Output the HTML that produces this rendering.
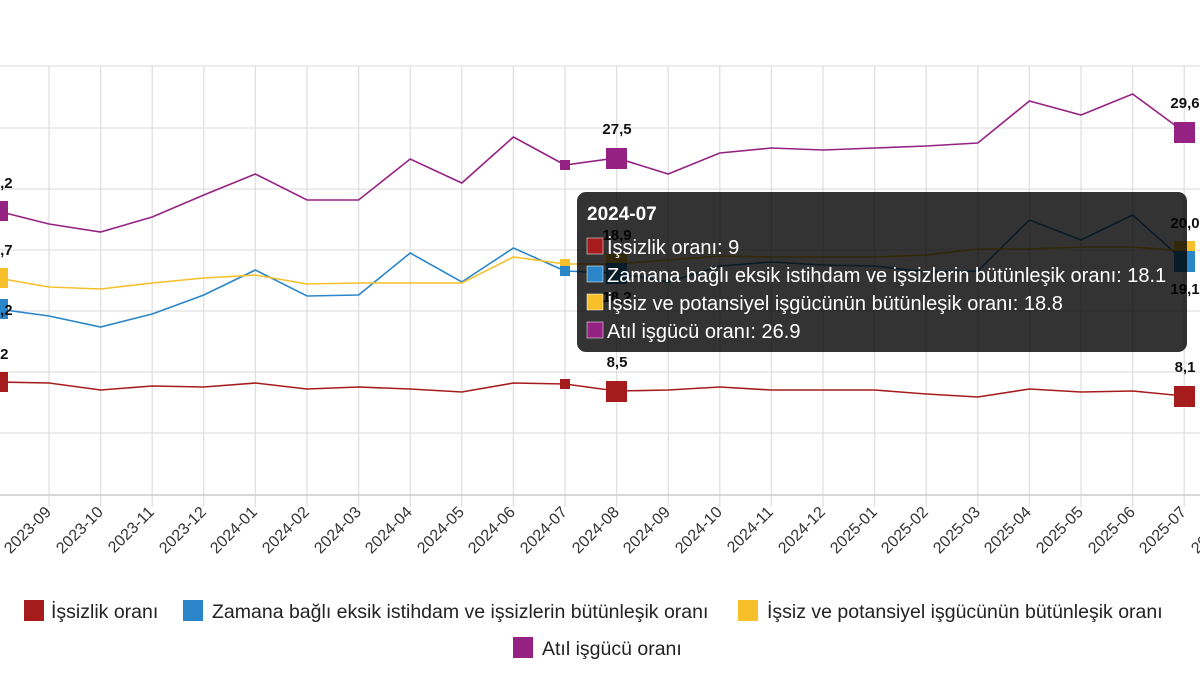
<!DOCTYPE html>
<html><head><meta charset="utf-8"><style>
html,body{margin:0;padding:0;background:#fff;width:1200px;height:675px;overflow:hidden}
svg{display:block;font-family:"Liberation Sans",Arial,sans-serif}
</style></head><body>
<svg width="1200" height="675" viewBox="0 0 1200 675">
<g stroke="#e0e0e0" stroke-width="1.3">
<line x1="0" y1="66" x2="1200" y2="66"/><line x1="0" y1="128" x2="1200" y2="128"/>
<line x1="0" y1="189" x2="1200" y2="189"/><line x1="0" y1="250" x2="1200" y2="250"/>
<line x1="0" y1="311" x2="1200" y2="311"/><line x1="0" y1="372" x2="1200" y2="372"/>
<line x1="0" y1="433" x2="1200" y2="433"/>
<line x1="49" y1="66" x2="49" y2="507"/><line x1="100.6" y1="66" x2="100.6" y2="507"/>
<line x1="152.2" y1="66" x2="152.2" y2="507"/><line x1="203.8" y1="66" x2="203.8" y2="507"/>
<line x1="255.4" y1="66" x2="255.4" y2="507"/><line x1="307" y1="66" x2="307" y2="507"/>
<line x1="358.6" y1="66" x2="358.6" y2="507"/><line x1="410.2" y1="66" x2="410.2" y2="507"/>
<line x1="461.8" y1="66" x2="461.8" y2="507"/><line x1="513.4" y1="66" x2="513.4" y2="507"/>
<line x1="565" y1="66" x2="565" y2="507"/><line x1="616.6" y1="66" x2="616.6" y2="507"/>
<line x1="668.2" y1="66" x2="668.2" y2="507"/><line x1="719.8" y1="66" x2="719.8" y2="507"/>
<line x1="771.4" y1="66" x2="771.4" y2="507"/><line x1="823" y1="66" x2="823" y2="507"/>
<line x1="874.6" y1="66" x2="874.6" y2="507"/><line x1="926.2" y1="66" x2="926.2" y2="507"/>
<line x1="977.8" y1="66" x2="977.8" y2="507"/><line x1="1029.4" y1="66" x2="1029.4" y2="507"/>
<line x1="1081" y1="66" x2="1081" y2="507"/><line x1="1132.6" y1="66" x2="1132.6" y2="507"/>
<line x1="1184.2" y1="66" x2="1184.2" y2="507"/>
</g>
<line x1="0" y1="495" x2="1200" y2="495" stroke="#ccc" stroke-width="1.5"/>
<g fill="none" stroke-width="1.6">
<polyline stroke="#a61c1c" points="-2.6,382 49,383 100.6,390 152.2,386 203.8,387 255.4,383 307,389 358.6,387 410.2,389 461.8,392 513.4,383 565,384 616.6,391 668.2,390 719.8,387 771.4,390 823,390 874.6,390 926.2,394 977.8,397 1029.4,389 1081,392 1132.6,391 1184.2,396"/>
<polyline stroke="#2a86c9" points="-2.6,309 49,316 100.6,327 152.2,314 203.8,295 255.4,270 307,296 358.6,295 410.2,253 461.8,282 513.4,248 565,271 616.6,273 668.2,282 719.8,266 771.4,262 823,265 874.6,266 926.2,272 977.8,271 1029.4,220 1081,240 1132.6,215 1184.2,261"/>
<polyline stroke="#f7c02a" points="-2.6,278 49,287 100.6,289 152.2,283 203.8,278 255.4,275 307,284 358.6,283 410.2,283 461.8,283 513.4,257 565,264 616.6,264 668.2,260 719.8,256 771.4,257 823,257 874.6,257 926.2,255 977.8,249 1029.4,249 1081,247 1132.6,247 1184.2,251"/>
<polyline stroke="#952283" points="-2.6,211 49,224 100.6,232 152.2,217 203.8,195 255.4,174 307,200 358.6,200 410.2,159 461.8,183 513.4,137 565,165 616.6,158 668.2,174 719.8,153 771.4,148 823,150 874.6,148 926.2,146 977.8,143 1029.4,101 1081,115 1132.6,94 1184.2,132"/>
</g>
<g>
<rect x="-12" y="201" width="20" height="20" fill="#952283"/>
<rect x="-12" y="268" width="20" height="20" fill="#f7c02a"/>
<rect x="-12" y="299" width="20" height="20" fill="#2a86c9"/>
<rect x="-12" y="372" width="20" height="20" fill="#a61c1c"/>
<rect x="560" y="160" width="10" height="10" fill="#952283"/>
<rect x="560" y="259" width="10" height="10" fill="#f7c02a"/>
<rect x="560" y="266" width="10" height="10" fill="#2a86c9"/>
<rect x="560" y="379" width="10" height="10" fill="#a61c1c"/>
<rect x="606" y="148" width="21" height="21" fill="#952283"/>
<rect x="606" y="254" width="21" height="21" fill="#f7c02a"/>
<rect x="606" y="263" width="21" height="21" fill="#2a86c9"/>
<rect x="606" y="381" width="21" height="21" fill="#a61c1c"/>
<rect x="1174" y="122" width="21" height="21" fill="#952283"/>
<rect x="1174" y="241" width="21" height="21" fill="#f7c02a"/>
<rect x="1174" y="251" width="21" height="21" fill="#2a86c9"/>
<rect x="1174" y="386" width="21" height="21" fill="#a61c1c"/>
</g>
<g font-size="15" font-weight="bold" fill="#111" text-anchor="middle">
<text x="-2" y="188">27,2</text><text x="-2" y="255">19,7</text><text x="-2" y="315">18,2</text><text x="-2" y="359">9,2</text>
<text x="617" y="134">27,5</text><text x="617" y="240">18,9</text><text x="617" y="302">18,2</text><text x="617" y="367">8,5</text>
<text x="1185" y="108">29,6</text><text x="1185" y="228">20,0</text><text x="1185" y="294">19,1</text><text x="1185" y="372">8,1</text>
</g>
<g font-size="16" fill="#333" text-anchor="end">
<text transform="translate(1,513) rotate(-45)">2023-08</text>
<text transform="translate(52,513) rotate(-45)">2023-09</text>
<text transform="translate(104,513) rotate(-45)">2023-10</text>
<text transform="translate(155,513) rotate(-45)">2023-11</text>
<text transform="translate(207,513) rotate(-45)">2023-12</text>
<text transform="translate(258,513) rotate(-45)">2024-01</text>
<text transform="translate(310,513) rotate(-45)">2024-02</text>
<text transform="translate(362,513) rotate(-45)">2024-03</text>
<text transform="translate(413,513) rotate(-45)">2024-04</text>
<text transform="translate(465,513) rotate(-45)">2024-05</text>
<text transform="translate(516,513) rotate(-45)">2024-06</text>
<text transform="translate(568,513) rotate(-45)">2024-07</text>
<text transform="translate(620,513) rotate(-45)">2024-08</text>
<text transform="translate(671,513) rotate(-45)">2024-09</text>
<text transform="translate(723,513) rotate(-45)">2024-10</text>
<text transform="translate(774,513) rotate(-45)">2024-11</text>
<text transform="translate(826,513) rotate(-45)">2024-12</text>
<text transform="translate(878,513) rotate(-45)">2025-01</text>
<text transform="translate(929,513) rotate(-45)">2025-02</text>
<text transform="translate(981,513) rotate(-45)">2025-03</text>
<text transform="translate(1032,513) rotate(-45)">2025-04</text>
<text transform="translate(1084,513) rotate(-45)">2025-05</text>
<text transform="translate(1136,513) rotate(-45)">2025-06</text>
<text transform="translate(1187,513) rotate(-45)">2025-07</text>
<text transform="translate(1239,513) rotate(-45)">2025-08</text>
</g>
<rect x="577" y="192" width="610" height="160" rx="9" fill="rgba(0,0,0,0.8)"/>
<g font-size="20" fill="#fff">
<text x="587" y="220" font-weight="bold" font-size="19">2024-07</text>
<rect x="587" y="238" width="16" height="16" fill="#a61c1c" stroke="#fff" stroke-width="0.5"/>
<text x="607" y="254">İşsizlik oranı: 9</text>
<rect x="587" y="266" width="16" height="16" fill="#2a86c9" stroke="#fff" stroke-width="0.5"/>
<text x="607" y="282">Zamana bağlı eksik istihdam ve işsizlerin bütünleşik oranı: 18.1</text>
<rect x="587" y="294" width="16" height="16" fill="#f7c02a" stroke="#fff" stroke-width="0.5"/>
<text x="607" y="310">İşsiz ve potansiyel işgücünün bütünleşik oranı: 18.8</text>
<rect x="587" y="322" width="16" height="16" fill="#952283" stroke="#fff" stroke-width="0.5"/>
<text x="607" y="338">Atıl işgücü oranı: 26.9</text>
</g>
<g font-size="19.5" fill="#222">
<rect x="24" y="600" width="20" height="21" fill="#a61c1c"/><text x="51" y="618">İşsizlik oranı</text>
<rect x="183" y="600" width="20" height="21" fill="#2a86c9"/><text x="212" y="618">Zamana bağlı eksik istihdam ve işsizlerin bütünleşik oranı</text>
<rect x="738" y="600" width="20" height="21" fill="#f7c02a"/><text x="767" y="618">İşsiz ve potansiyel işgücünün bütünleşik oranı</text>
<rect x="513" y="637" width="20" height="21" fill="#952283"/><text x="542" y="655">Atıl işgücü oranı</text>
</g>
</svg>
</body></html>
